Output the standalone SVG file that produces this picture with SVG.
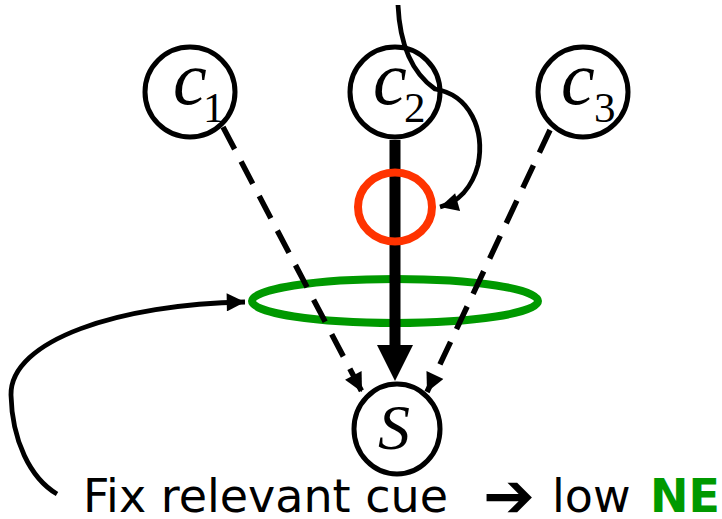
<svg xmlns="http://www.w3.org/2000/svg" width="722" height="519" viewBox="0 0 722 519">
<style>
.node{fill:#fff;stroke:#000;stroke-width:5}
.lbl{font-family:"Liberation Serif","Times New Roman",serif;font-style:italic;fill:#000}
.sub{font-family:"Liberation Serif","Times New Roman",serif;font-style:normal;fill:#000;font-size:43px}
.dash{fill:none;stroke:#000;stroke-width:5.5;stroke-dasharray:25 14}
.curve{fill:none;stroke:#000;stroke-width:4.8}
.cap{font-family:"DejaVu Sans",Verdana,sans-serif;font-size:46px;fill:#000}
</style>
<defs>
<marker id="ah" viewBox="0 0 10 10" refX="10" refY="5" markerWidth="4.6" markerHeight="3.4" markerUnits="strokeWidth" orient="auto"><path d="M0,0 L10,5 L0,10 Z" fill="#000"/></marker>
<marker id="ahc" viewBox="0 0 10 10" refX="10" refY="5" markerWidth="4" markerHeight="3.8" markerUnits="strokeWidth" orient="auto"><path d="M0,0 L10,5 L0,10 Z" fill="#000"/></marker>
</defs>
<g id="highlight-green"><ellipse cx="395" cy="301" rx="143" ry="22" fill="none" stroke="#009900" stroke-width="8"/></g>
<g id="connectors">
<line class="dash" x1="223" y1="127" x2="362" y2="392" marker-end="url(#ah)"/>
<line class="dash" x1="550" y1="130" x2="427" y2="392" marker-end="url(#ah)"/>
<line x1="395" y1="140" x2="395" y2="348" stroke="#000" stroke-width="11"/>
<polygon points="377,345 413,345 395,381" fill="#000"/>
<path class="curve" d="M398,5 C400,50 415,75 435,89 C470,95 485,130 478,165 C472,188 458,202 440,207" marker-end="url(#ahc)"/>
<path class="curve" d="M57,494 C30,478 12,440 11,395 C10,340 120,304 245,302" marker-end="url(#ahc)"/>
</g>
<g id="highlight-red"><ellipse cx="395" cy="207" rx="37" ry="34.5" fill="none" stroke="#FF3300" stroke-width="8"/></g>
<g id="c1"><circle class="node" cx="190" cy="92" r="45"/><text class="lbl" x="173" y="104" font-size="76">c</text><text class="sub" x="203" y="122">1</text></g>
<g id="c2"><circle class="node" cx="395" cy="92" r="45" style="fill:none"/><text class="lbl" x="373" y="104" font-size="76">c</text><text class="sub" x="404" y="122">2</text></g>
<g id="c3"><circle class="node" cx="583" cy="92" r="45"/><text class="lbl" x="561" y="104" font-size="76">c</text><text class="sub" x="594" y="122">3</text></g>
<g id="S"><ellipse class="node" cx="397" cy="429" rx="43" ry="45"/><text class="lbl" x="394" y="449" font-size="64" text-anchor="middle">S</text></g>
<g id="caption">
<text class="cap" y="512"><tspan x="83">Fix relevant cue</tspan><tspan x="483" y="517" font-size="62" font-weight="bold">➔</tspan><tspan x="552" y="512">low</tspan><tspan x="650" fill="#009900" font-weight="bold">NE</tspan></text>
</g>
</svg>
